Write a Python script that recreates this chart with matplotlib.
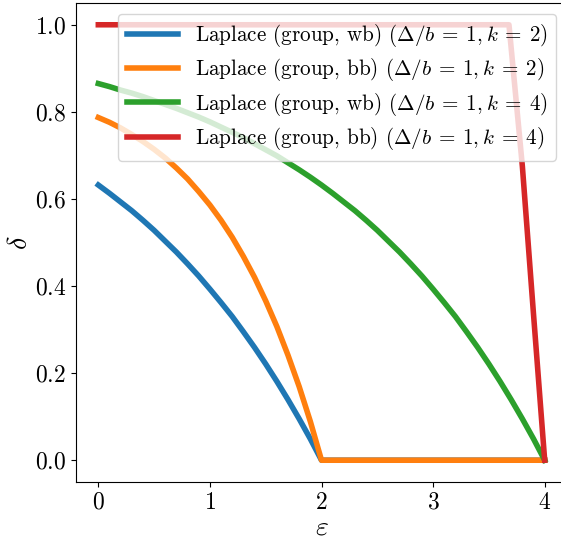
import matplotlib
matplotlib.use("Agg")
import matplotlib.pyplot as plt

plt.rcParams['font.family'] = 'serif'
plt.rcParams['font.serif'] = ['cmr10']
plt.rcParams['mathtext.fontset'] = 'cm'
plt.rcParams['axes.unicode_minus'] = False
plt.rcParams['axes.formatter.use_mathtext'] = True

# epsilon grid shared by the smooth curves (0 to 4, step 0.1)
eps = [i / 10 for i in range(41)]

wb_k2 = [0.632, 0.613, 0.593, 0.573, 0.551, 0.528, 0.503, 0.478, 0.451, 0.423,
         0.393, 0.362, 0.330, 0.295, 0.259, 0.221, 0.181, 0.139, 0.095, 0.049,
         0.0] + [0.0] * 20
bb_k2 = [0.787, 0.776, 0.763, 0.748, 0.732, 0.714, 0.694, 0.671, 0.646, 0.617,
         0.586, 0.551, 0.512, 0.468, 0.420, 0.366, 0.307, 0.241, 0.169, 0.089,
         0.0] + [0.0] * 20
wb_k4 = [0.865, 0.858, 0.850, 0.843, 0.835, 0.826, 0.817, 0.808, 0.798, 0.788,
         0.777, 0.765, 0.753, 0.741, 0.727, 0.713, 0.699, 0.683, 0.667, 0.650,
         0.632, 0.613, 0.593, 0.573, 0.551, 0.528, 0.503, 0.478, 0.451, 0.423,
         0.393, 0.362, 0.330, 0.295, 0.259, 0.221, 0.181, 0.139, 0.095, 0.049,
         0.0]

# the k=4 black-box bound stays at 1 almost all the way
eps_bb_k4 = [0.0, 3.68, 3.8, 3.9, 4.0]
bb_k4 = [1.0, 1.0, 0.675, 0.335, 0.0]

labels = [r'Laplace (group, wb) ($\Delta/b\:=\:1,k\:=\:2$)',
          r'Laplace (group, bb) ($\Delta/b\:=\:1,k\:=\:2$)',
          r'Laplace (group, wb) ($\Delta/b\:=\:1,k\:=\:4$)',
          r'Laplace (group, bb) ($\Delta/b\:=\:1,k\:=\:4$)']

fig = plt.figure(figsize=(5.61, 5.39), dpi=100)
ax = fig.add_axes([76 / 561, 57 / 539, 491 / 561, 479 / 539])

lw = 4
ax.plot(eps, wb_k2, color='tab:blue', lw=lw, label=labels[0])
ax.plot(eps, bb_k2, color='tab:orange', lw=lw, label=labels[1])
ax.plot(eps, wb_k4, color='tab:green', lw=lw, label=labels[2])
ax.plot(eps_bb_k4, bb_k4, color='tab:red', lw=lw, label=labels[3])

ax.set_xlabel(r'$\varepsilon$', fontsize=20, labelpad=0)
ax.set_ylabel(r'$\delta$', fontsize=20, labelpad=1)
ax.set_xticks([0, 1, 2, 3, 4])
ax.set_yticks([0.0, 0.2, 0.4, 0.6, 0.8, 1.0])
ax.tick_params(labelsize=17)

ax.legend(loc='upper right', fontsize=15.2, handlelength=2.45,
          labelspacing=0.35)

fig.savefig('out.png', dpi=100)
